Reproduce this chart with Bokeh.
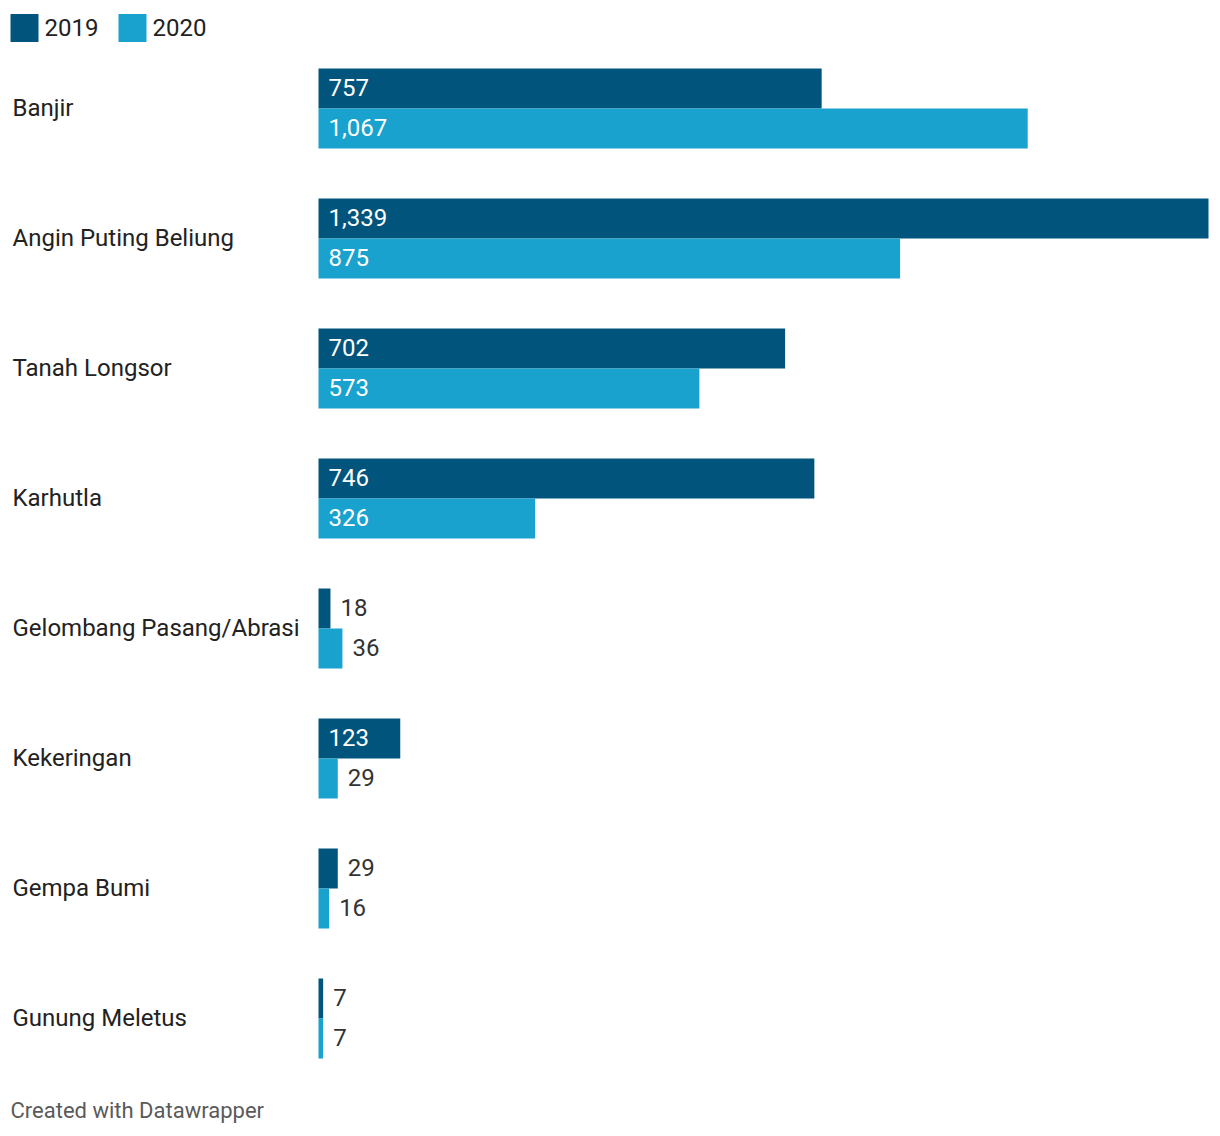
from bokeh.plotting import figure
from bokeh.models import Range1d, ColumnDataSource
from bokeh.core.properties import value
from bokeh.embed import file_html
from bokeh.resources import INLINE

categories = ["Banjir", "Angin Puting Beliung", "Tanah Longsor", "Karhutla",
              "Gelombang Pasang/Abrasi", "Kekeringan", "Gempa Bumi", "Gunung Meletus"]
values_2019 = [757, 1339, 702, 746, 18, 123, 29, 7]
values_2020 = [1067, 875, 573, 326, 36, 29, 16, 7]
series_names = ["2019", "2020"]
colors = ["#01547b", "#19a2ce"]

W, H = 1212, 1128
max_val = max(values_2019 + values_2020)
bar_left_px = 318          # px where zero sits
bar_right_px = 1208        # px where max value ends
sx = (bar_right_px - bar_left_px) / max_val   # px per unit
pitch = 130.0              # px per category
first_center = 108.0       # px of first category center
bar_h = 40.0 / pitch       # bar thickness in category units

x0 = -bar_left_px / sx
x1 = (W - bar_left_px) / sx
y_top = -first_center / pitch
y_bot = (H - first_center) / pitch

def X(px):
    return x0 + px / sx

def Y(py):
    return y_top + py / pitch

p = figure(width=W, height=H, output_backend="svg", toolbar_location=None,
           x_range=Range1d(x0, x1), y_range=Range1d(y_bot, y_top),
           min_border=0, min_border_left=0, min_border_right=0,
           min_border_top=0, min_border_bottom=0)
p.axis.visible = False
p.grid.visible = False
p.outline_line_color = None
p.background_fill_color = "white"
p.border_fill_color = "white"

FONT = value("Roboto")
idx = list(range(len(categories)))
FS = "24px"
TXT = "#333333"

for k, (vals, col) in enumerate(zip([values_2019, values_2020], colors)):
    ys = [i + (k - 0.5) * bar_h for i in idx]
    src = ColumnDataSource(dict(y=ys, v=vals))
    p.hbar(y="y", left=0, right="v", height=bar_h, color=col, line_color=None, source=src)

for k, (vals, col) in enumerate(zip([values_2019, values_2020], colors)):
    ys = [i + (k - 0.5) * bar_h for i in idx]
    inside = [v * sx > 60 for v in vals]
    lx = [10 / sx if ins else v + 10 / sx for v, ins in zip(vals, inside)]
    lc = ["#ffffff" if ins else TXT for ins in inside]
    lt = [f"{v:,}" for v in vals]
    src = ColumnDataSource(dict(x=lx, y=[y - 1.0 / pitch for y in ys], t=lt, c=lc))
    p.text(x="x", y="y", text="t", text_color="c", text_font=FONT,
           text_font_size=FS, text_baseline="middle", text_align="left", source=src)

# category labels
p.text(x=[X(12)] * len(categories), y=[i - 1.0 / pitch for i in idx], text=categories,
       text_color="#222222", text_font=FONT, text_font_size=FS,
       text_baseline="middle", text_align="left")

# legend
leg_x = [10, 118]
for lxp, name, col in zip(leg_x, series_names, colors):
    p.rect(x=[X(lxp + 14)], y=[Y(27.5)], width=28 / sx, height=28 / pitch,
           color=col, line_color=None)
    p.text(x=[X(lxp + 34)], y=[Y(26.5)], text=[name], text_color="#222222", text_font=FONT,
           text_font_size=FS, text_baseline="middle", text_align="left")

# footer
p.text(x=[X(10)], y=[Y(1110)], text=["Created with Datawrapper"], text_color="#5a5a5a",
       text_font=FONT, text_font_size="22px", text_baseline="middle", text_align="left")

open("out.html", "w").write(file_html(p, INLINE))
